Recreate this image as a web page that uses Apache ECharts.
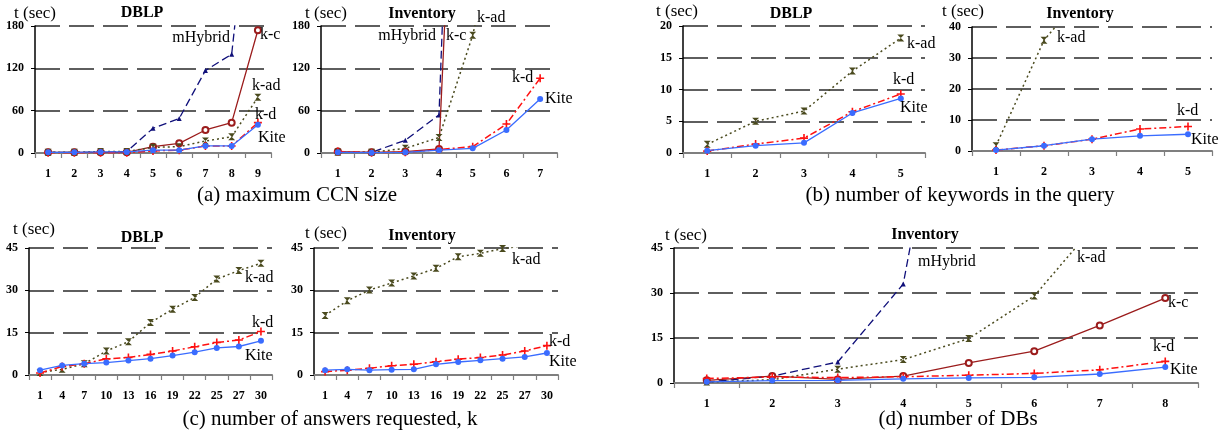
<!DOCTYPE html>
<html><head><meta charset="utf-8">
<script src="https://cdn.jsdelivr.net/npm/echarts@6/dist/echarts.min.js"></script>
<style>html,body{margin:0;padding:0;background:#fff}#c{width:1223px;height:436px}</style>
</head><body><div id="c"></div>
<script>
// ---- data ----
const ccnDblpCats = ['1','2','3','4','5','6','7','8','9'];
const ccnDblpMHybrid = [1,1,1,2,35,49,117,140,480];
const ccnDblpKc = [1,1,1,1,9,13.7,32.6,43,174];
const ccnDblpKad = [1,1,2,2,8,9,17,23,79];
const ccnDblpKd = [0.5,0.5,0.5,0.5,3,4,10,10,43];
const ccnDblpKite = [1,1,1.5,1.5,4,4,10,10,40];

const ccnInvCats = ['1','2','3','4','5','6','7'];
const ccnInvMHybrid = [1,1,18,54,1340,null,null];
const ccnInvKc = [2,1,2,5.7,1060,null,null];
const ccnInvKad = [1,1,6.6,22,167,380,null];
const ccnInvKd = [2,0.5,1,5,9,41,106];
const ccnInvKite = [1,0.5,1,4,6.6,32.6,76.5];

const kwCats = ['1','2','3','4','5'];
const kwDblpKad = [1.36,5.0,6.6,12.9,18.1];
const kwDblpKd = [0.3,1.4,2.35,6.5,9.3];
const kwDblpKite = [0.37,1.15,1.6,6.3,8.6];
const kwInvKad = [1.7,35.7,54,null,null];
const kwInvKd = [0.3,1.7,3.8,7.1,7.9];
const kwInvKite = [0.3,1.7,3.8,4.9,5.4];

const kCats = ['1','4','7','10','13','16','19','22','25','27','30'];
const kDblpKad = [0.9,2,4,8.5,11.8,18.6,23.3,27.5,34,37,39.6];
const kDblpKd = [0.7,3,4,5.7,6.2,7.3,8.5,10,11.5,12.4,15.4];
const kDblpKite = [1.7,3.4,4,4.4,5.1,5.8,6.9,8.1,9.6,10.1,12.1];
const kInvKad = [21.1,26.3,30.1,32.6,35.1,37.8,41.9,43.1,44.8,45.8,47.5];
const kInvKd = [1.2,1.7,2.4,3.3,3.8,4.7,5.6,6.2,7.1,8.5,10.4];
const kInvKite = [1.7,2,1.7,1.9,2,3.8,4.6,5.2,5.8,6.4,7.8];

const dbCats = ['1','2','3','4','5','6','7','8'];
const dbMHybrid = [0.3,2.3,7,33,150,null,null,null];
const dbKc = [0.9,2.3,1.2,2.3,6.7,10.6,19.2,28.3];
const dbKad = [0.3,1.1,4.6,7.8,14.8,29,54.5,null];
const dbKd = [1.5,2,1.8,2.1,2.6,3.2,4.4,7.2];
const dbKite = [0.4,0.8,0.9,1.4,1.7,1.9,3.0,5.3];

// ---- styles ----
const SERIF = '"Liberation Serif","Times New Roman",serif';
const STYLES = {
  mHybrid: {color:'#10107a', type:[8,4], width:1.3, symbol:'triangle', size:5},
  kc: {color:'#9b1c1c', type:'solid', width:1.3, symbol:'emptyCircle', size:6},
  kad: {color:'#4a4a1e', type:[2,3], width:1.5, symbol:'path://M0,0L10,0L5,5L10,10L0,10L5,5Z', size:7},
  kd: {color:'#ff1010', type:[7,3,2,3], width:1.5, symbol:'path://M4,0H6V4H10V6H6V10H4V6H0V4H4Z', size:8},
  kite: {color:'#3a6cff', type:'solid', width:1.3, symbol:'circle', size:6}
};

// panel layout: [left, top, width, height]
const panels = [
  {box:[35,26,236,127], cats:ccnDblpCats, max:180, interval:60,
   series:[['mHybrid',ccnDblpMHybrid],['kc',ccnDblpKc],['kad',ccnDblpKad],['kd',ccnDblpKd],['kite',ccnDblpKite]]},
  {box:[321,26,236,127], cats:ccnInvCats, max:180, interval:60,
   series:[['mHybrid',ccnInvMHybrid],['kc',ccnInvKc],['kad',ccnInvKad],['kd',ccnInvKd],['kite',ccnInvKite]]},
  {box:[683,26,242,127], cats:kwCats, max:20, interval:5,
   series:[['kad',kwDblpKad],['kd',kwDblpKd],['kite',kwDblpKite]]},
  {box:[972,27,240,124], cats:kwCats, max:40, interval:10,
   series:[['kad',kwInvKad],['kd',kwInvKd],['kite',kwInvKite]]},
  {box:[29,248,243,127], cats:kCats, max:45, interval:15,
   series:[['kad',kDblpKad],['kd',kDblpKd],['kite',kDblpKite]]},
  {box:[314,248,244,127], cats:kCats, max:45, interval:15,
   series:[['kad',kInvKad],['kd',kInvKd],['kite',kInvKite]]},
  {box:[674,248,524,135], cats:dbCats, max:45, interval:15,
   series:[['mHybrid',dbMHybrid],['kc',dbKc],['kad',dbKad],['kd',dbKd],['kite',dbKite]]}
];

const grid=[], xAxis=[], yAxis=[], series=[];
panels.forEach((p,i)=>{
  grid.push({left:p.box[0], top:p.box[1], width:p.box[2], height:p.box[3], containLabel:false});
  xAxis.push({type:'category', gridIndex:i, data:p.cats, boundaryGap:true,
    axisLine:{show:true, lineStyle:{color:'#7f7f7f', width:2}},
    axisTick:{show:true, length:5, inside:false, lineStyle:{color:'#7f7f7f', width:1.2}},
    axisLabel:{interval:0, margin:15, fontFamily:SERIF, fontWeight:'bold', fontSize:12, color:'#000', hideOverlap:false},
    splitLine:{show:false}});
  yAxis.push({type:'value', gridIndex:i, min:0, max:p.max, interval:p.interval,
    axisLine:{show:true, lineStyle:{color:'#000', width:1.5}},
    axisTick:{show:true, length:4, lineStyle:{color:'#000'}},
    axisLabel:{margin:11, fontFamily:SERIF, fontWeight:'bold', fontSize:12, color:'#000'},
    splitLine:{show:true, lineStyle:{color:'#2a2a2a', width:1.6, type:[25,9]}}});
  p.series.forEach(([key,data],j)=>{
    const s=STYLES[key];
    series.push({type:'line', xAxisIndex:i, yAxisIndex:i, data:data, clip:true,
      symbol:s.symbol, symbolSize:s.size, showSymbol:true, z:2+j, silent:true, animation:false,
      lineStyle:{color:s.color, width:s.width, type:s.type},
      itemStyle:{color:s.color, borderColor:s.color, borderWidth: key==='kc'?1.2:0}});
  });
});

// ---- texts ----
const titles = [['DBLP',142,13],['Inventory',422,14],['DBLP',791,14],['Inventory',1080,14],
                ['DBLP',142,238],['Inventory',422,236],['Inventory',925,235]];
const unitPos = [[35,14],[326,14],[677,12],[963,12],[34,230],[326,234],[686,236]];
const captions = [['(a) maximum CCN size',297,195],['(b) number of keywords in the query',960,195],
                  ['(c) number of answers requested, k',330,419],['(d) number of DBs',958,419]];
const seriesLabels = [
  ['mHybrid',230,38,'right'],['k-c',260,35,'left'],['k-ad',252,86,'left'],['k-d',255,115,'left'],['Kite',258,138,'left'],
  ['mHybrid',436,36,'right'],['k-c',446,36,'left'],['k-ad',477,18,'left'],['k-d',512,78,'left'],['Kite',545,99,'left'],
  ['k-ad',907,44,'left'],['k-d',893,80,'left'],['Kite',900,108,'left'],
  ['k-ad',1057,38,'left'],['k-d',1177,111,'left'],['Kite',1191,140,'left'],
  ['k-ad',245,278,'left'],['k-d',252,323,'left'],['Kite',245,356,'left'],
  ['k-ad',512,260,'left'],['k-d',549,342,'left'],['Kite',549,362,'left'],
  ['mHybrid',918,262,'left'],['k-ad',1077,258,'left'],['k-c',1168,303,'left'],['k-d',1153,347,'left'],['Kite',1170,370,'left']
];
const graphic=[];
function txt(t,x,y,size,weight,align){
  graphic.push({type:'text', x:x, y:y, silent:true, z:100,
    style:{text:t, fill:'#000', font:`${weight} ${size}px ${SERIF}`, textAlign:align, textVerticalAlign:'middle'}});
}
titles.forEach(([t,x,y])=>txt(t,x,y,16,'bold','center'));
unitPos.forEach(([x,y])=>txt('t (sec)',x,y,17,'normal','center'));
captions.forEach(([t,x,y])=>txt(t,x,y,21,'normal','center'));
seriesLabels.forEach(([t,x,y,a])=>txt(t,x,y,16,'normal',a));

const chart = echarts.init(document.getElementById('c'), null, {renderer:'canvas'});
chart.setOption({animation:false, backgroundColor:'#fff', grid, xAxis, yAxis, series, graphic});
</script></body></html>
